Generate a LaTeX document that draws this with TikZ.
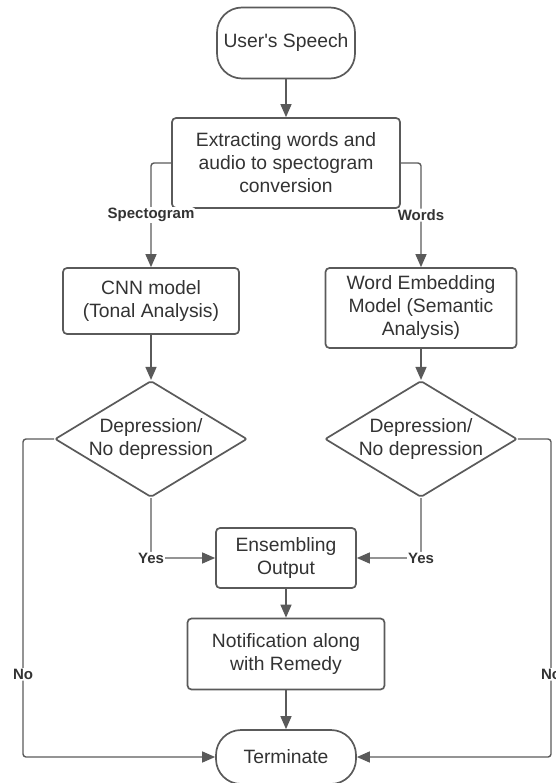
\documentclass[tikz,border=0pt]{standalone}
\usepackage{fontspec}
\setmainfont{Liberation Sans}
\usetikzlibrary{shapes.geometric,arrows.meta}
\definecolor{linea}{HTML}{5A5A5A}
\definecolor{texto}{HTML}{333333}

\begin{document}
\begin{tikzpicture}[x=1pt,y=-1pt,
    caja/.style={draw=linea, line width=1.7pt, fill=white, rounded corners=4pt,
        align=center, text=texto, inner sep=0pt,
        font=\fontsize{19.3}{23}\selectfont},
    termino/.style={caja, rounded corners=25pt},
    decision/.style={caja, diamond, rounded corners=2pt, aspect=1.65},
    flujo/.style={draw=linea, line width=1.4pt, rounded corners=3pt,
        -{Triangle[length=13pt,width=11pt]}},
    etiqueta/.style={fill=white, text=texto, inner sep=1pt,
        font=\bfseries\fontsize{15}{17}\selectfont}]
        \useasboundingbox (0,0) rectangle (555,783);

        % Inicio y extraccion
        \node[termino, minimum width=138pt, minimum height=71pt] (speech) at (286,43) {User\textquotesingle s Speech};
        \node[caja, minimum width=228pt, minimum height=90pt] (extract) at (286,163)
            {Extracting words and\\audio to spectogram\\conversion};

        % Modelos
        \node[caja, minimum width=176pt, minimum height=66pt] (cnn) at (151,301)
            {CNN model\\(Tonal Analysis)};
        \node[caja, minimum width=191pt, minimum height=80pt] (wem) at (421,308)
            {Word Embedding\\Model (Semantic\\Analysis)};

        % Decisiones
        \node[decision, minimum width=187pt, minimum height=113pt] (ldia) at (151,439)
            {Depression/\\No depression};
        \node[decision, minimum width=187pt, minimum height=113pt] (rdia) at (421,439)
            {Depression/\\No depression};

        % Salida
        \node[caja, minimum width=140pt, minimum height=60pt] (ens) at (286,558)
            {Ensembling\\Output};
        \node[caja, minimum width=197pt, minimum height=71pt] (notif) at (286,654)
            {Notification along\\with Remedy};
        \node[termino, minimum width=140pt, minimum height=54pt] (term) at (286,757) {Terminate};

        \coordinate (lno) at (23,439);
        \coordinate (rno) at (551,439);

        % Conexiones
        \draw[flujo] (speech.south) -- (extract.north);
        \draw[flujo] (extract.west) -| node[etiqueta, pos=0.75] {Spectogram} (cnn.north);
        \draw[flujo] (extract.east) -| node[etiqueta, pos=0.75] {Words} (wem.north);
        \draw[flujo] (cnn.south) -- (ldia.north);
        \draw[flujo] (wem.south) -- (rdia.north);
        \draw[flujo] (ldia.south) |- node[etiqueta, pos=0.5] {Yes} (ens.west);
        \draw[flujo] (rdia.south) |- node[etiqueta, pos=0.5] {Yes} (ens.east);
        \draw[flujo] (ldia.west) -- (lno) |- node[etiqueta, pos=0.37] {No} (term.west);
        \draw[flujo] (rdia.east) -- (rno) |- node[etiqueta, pos=0.37] {No} (term.east);
        \draw[flujo] (ens.south) -- (notif.north);
        \draw[flujo] (notif.south) -- (term.north);
    \end{tikzpicture}
\end{document}
